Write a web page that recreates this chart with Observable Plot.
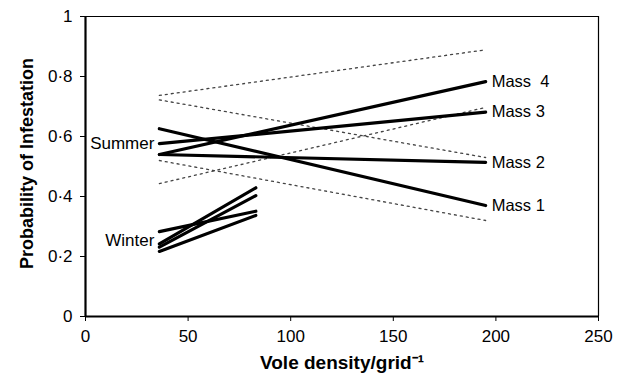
<!DOCTYPE html>
<html>
<head>
<meta charset="utf-8">
<script src="https://cdn.jsdelivr.net/npm/d3@7"></script>
<script src="https://cdn.jsdelivr.net/npm/@observablehq/plot@0.6"></script>
<style>
  html, body { margin: 0; padding: 0; background: white; }
</style>
</head>
<body>
<div id="chart"></div>
<script>
// Summer fitted lines (per mass class)
const massLabels = ["Mass 1", "Mass 2", "Mass 3", "Mass  4"];
const summerX = [36, 195];
const summerStart = [0.626, 0.540, 0.576, 0.540];
const summerEnd = [0.370, 0.514, 0.681, 0.783];

// Confidence limits (dotted)
const ciNames = ["Mass 1 upper", "Mass 1 lower", "Mass 4 upper", "Mass 4 lower"];
const ciStart = [0.722, 0.520, 0.737, 0.443];
const ciEnd = [0.530, 0.320, 0.889, 0.697];

// Winter fitted lines
const winterNames = ["W1", "W2", "W3", "W4"];
const winterX = [36, 83];
const winterStart = [0.283, 0.242, 0.231, 0.217];
const winterEnd = [0.351, 0.429, 0.403, 0.337];

// Axes
const xTicks = [0, 50, 100, 150, 200, 250];
const yTicks = [0, 0.2, 0.4, 0.6, 0.8, 1];
const seasonLabels = ["Summer", "Winter"];
const seasonLabelY = [0.576, 0.253];

const toRows = (names, xs, starts, ends) =>
  names.flatMap((n, i) => [
    {series: n, x: xs[0], y: starts[i]},
    {series: n, x: xs[1], y: ends[i]}
  ]);

const summerRows = toRows(massLabels, summerX, summerStart, summerEnd);
const ciRows = toRows(ciNames, summerX, ciStart, ciEnd);
const winterRows = toRows(winterNames, winterX, winterStart, winterEnd);
const massLabelRows = massLabels.map((m, i) => ({x: summerX[1], y: summerEnd[i], text: m}));
const seasonRows = seasonLabels.map((s, i) => ({x: summerX[0], y: seasonLabelY[i], text: s}));

const fmt = d => (d === 0 || d === 1) ? String(d) : d.toFixed(1).replace(".", "\u00B7");

const chart = Plot.plot({
  width: 628,
  height: 381,
  marginLeft: 85,
  marginRight: 30,
  marginTop: 16,
  marginBottom: 65,
  x: {domain: [0, 250]},
  y: {domain: [0, 1]},
  style: {fontFamily: "'Liberation Sans', Arial, sans-serif", fontSize: "17px", color: "black", background: "white"},
  marks: [
    Plot.ruleY([1], {stroke: "black", strokeWidth: 1.2}),
    Plot.ruleX([250], {stroke: "black", strokeWidth: 1.2}),
    Plot.axisX({ticks: xTicks, tickSize: 5, tickPadding: 8, label: null, stroke: "black"}),
    Plot.axisY({ticks: yTicks, tickSize: 5, tickPadding: 8, tickFormat: fmt, label: null, stroke: "black"}),
    Plot.line(ciRows, {x: "x", y: "y", z: "series", stroke: "#444", strokeWidth: 1.3, strokeDasharray: "2,4"}),
    Plot.line(summerRows, {x: "x", y: "y", z: "series", stroke: "black", strokeWidth: 3.2}),
    Plot.line(winterRows, {x: "x", y: "y", z: "series", stroke: "black", strokeWidth: 3.2}),
    Plot.text(massLabelRows, {x: "x", y: "y", text: "text", textAnchor: "start", dx: 6, fontSize: 16.5}),
    Plot.text(seasonRows, {x: "x", y: "y", text: "text", textAnchor: "end", dx: -5, fontSize: 17}),
    Plot.ruleX([0], {stroke: "black", strokeWidth: 2.2}),
    Plot.ruleY([0], {stroke: "black", strokeWidth: 2.2}),
    Plot.text(["Probability of Infestation"], {frameAnchor: "left", textAnchor: "middle", rotate: -90, dx: -58, dy: -3, fontWeight: "bold", fontSize: 18}),
    Plot.text(["Vole density/grid\u207B\u00B9"], {frameAnchor: "bottom", dy: 52, fontWeight: "bold", fontSize: 19})
  ]
});
document.getElementById("chart").appendChild(chart);
</script>
</body>
</html>
